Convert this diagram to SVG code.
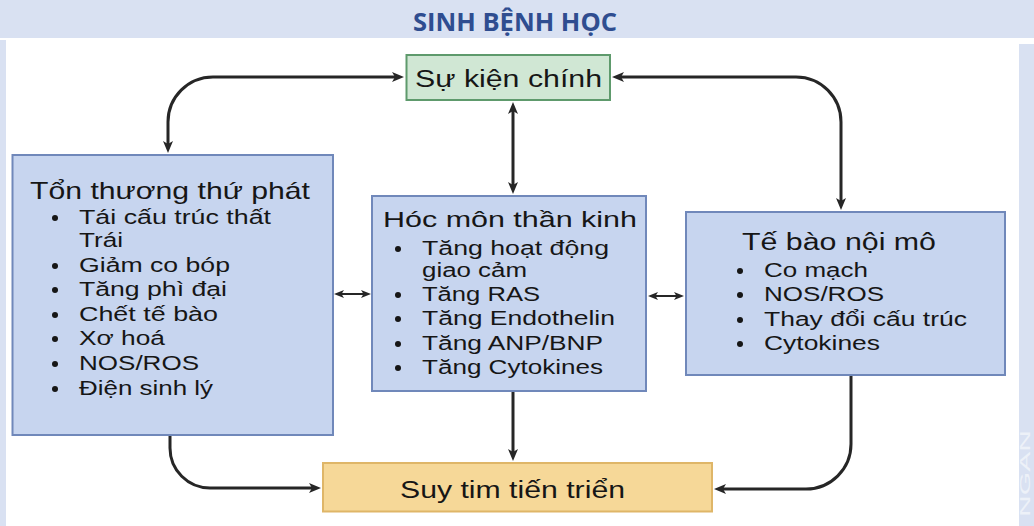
<svg xmlns="http://www.w3.org/2000/svg" width="1034" height="526" viewBox="0 0 1034 526">
  <style>
    .t { font-family: "Liberation Sans", Arial, sans-serif; fill: #161616; }
    .ttl { font-size: 23px; }
    .li { font-size: 20px; }
    .blue { fill: #c7d5ef; stroke: #7088ba; stroke-width: 2; }
    .green { fill: #d0e7d4; stroke: #5e9a6c; stroke-width: 2; }
    .orange { fill: #f6d898; stroke: #dfb668; stroke-width: 2; }
    .dot { fill: #161616; }
    .conn { fill: none; stroke: #262626; stroke-width: 3; }
    .thin { fill: none; stroke: #262626; stroke-width: 2; }
  </style>
  <defs>
    <marker id="ah" markerUnits="userSpaceOnUse" markerWidth="13" markerHeight="11" refX="4" refY="5" orient="auto-start-reverse" viewBox="0 0 13 11">
      <path d="M0,0 L12,5 L0,10 L3,5 z" fill="#262626"/>
    </marker>
    <marker id="sh" markerUnits="userSpaceOnUse" markerWidth="11" markerHeight="9" refX="3" refY="4" orient="auto-start-reverse" viewBox="0 0 11 9">
      <path d="M0,0 L10,4 L0,8 L2.5,4 z" fill="#262626"/>
    </marker>
  </defs>

  <g id="background">
    <rect x="0" y="0" width="1034" height="526" fill="#ffffff"/>
    <rect x="0" y="0" width="1034" height="38" fill="#d9e1f2"/>
    <rect x="0" y="40" width="6" height="486" fill="#d9e1f2"/>
    <rect x="1019" y="44" width="15" height="482" fill="#d9e1f2"/>
    <text transform="translate(1030,517) rotate(-90)" font-family="Liberation Sans, Arial, sans-serif" font-size="14" fill="#edf1f8" textLength="87" lengthAdjust="spacingAndGlyphs">NGAN</text>
  </g>

  <g id="title">
    <text x="413" y="31" font-family="'Open Sans', 'Liberation Sans', Arial, sans-serif" font-weight="bold" font-size="25" fill="#2f4d90" textLength="204" lengthAdjust="spacingAndGlyphs">SINH BỆNH HỌC</text>
  </g>

  <g id="connectors">
    <path class="conn" d="M 396 77 H 213 A 45 45 0 0 0 168 122 V 145" marker-start="url(#ah)" marker-end="url(#ah)"/>
    <path class="conn" d="M 620 77 H 796 A 45 45 0 0 1 841 122 V 202" marker-start="url(#ah)" marker-end="url(#ah)"/>
    <path class="conn" d="M 513 110 V 186" marker-start="url(#ah)" marker-end="url(#ah)"/>
    <path class="conn" d="M 513 392 V 453" marker-end="url(#ah)"/>
    <path class="conn" d="M 170 436 V 448 A 40 40 0 0 0 210 488 H 313" marker-end="url(#ah)"/>
    <path class="conn" d="M 851 376 V 444 A 45 45 0 0 1 806 489 H 722" marker-end="url(#ah)"/>
    <path class="thin" d="M 341 294 H 364" marker-start="url(#sh)" marker-end="url(#sh)"/>
    <path class="thin" d="M 655 296 H 677" marker-start="url(#sh)" marker-end="url(#sh)"/>
  </g>

  <g id="su-kien-chinh">
    <rect class="green" x="406.5" y="55" width="203.5" height="45"/>
    <text class="t ttl" x="415" y="87" textLength="187" lengthAdjust="spacingAndGlyphs">Sự kiện chính</text>
  </g>

  <g id="ton-thuong-thu-phat">
    <rect class="blue" x="12.5" y="155" width="320.5" height="280"/>
    <text class="t" x="30" y="199" font-size="24" textLength="280" lengthAdjust="spacingAndGlyphs">Tổn thương thứ phát</text>
    <circle class="dot" cx="55" cy="218" r="3"/>
    <text class="t li" x="79" y="224" textLength="192" lengthAdjust="spacingAndGlyphs">Tái cấu trúc thất</text>
    <text class="t li" x="79" y="247" textLength="44" lengthAdjust="spacingAndGlyphs">Trái</text>
    <circle class="dot" cx="55" cy="266" r="3"/>
    <text class="t li" x="79" y="272" textLength="151" lengthAdjust="spacingAndGlyphs">Giảm co bóp</text>
    <circle class="dot" cx="55" cy="290" r="3"/>
    <text class="t li" x="79" y="296" textLength="148" lengthAdjust="spacingAndGlyphs">Tăng phì đại</text>
    <circle class="dot" cx="55" cy="315" r="3"/>
    <text class="t li" x="79" y="321" textLength="139" lengthAdjust="spacingAndGlyphs">Chết tế bào</text>
    <circle class="dot" cx="55" cy="339" r="3"/>
    <text class="t li" x="79" y="345" textLength="86" lengthAdjust="spacingAndGlyphs">Xơ hoá</text>
    <circle class="dot" cx="55" cy="364" r="3"/>
    <text class="t li" x="79" y="370" textLength="120" lengthAdjust="spacingAndGlyphs">NOS/ROS</text>
    <circle class="dot" cx="55" cy="389" r="3"/>
    <text class="t li" x="79" y="395" textLength="134" lengthAdjust="spacingAndGlyphs">Điện sinh lý</text>
  </g>

  <g id="hoc-mon-than-kinh">
    <rect class="blue" x="372" y="196" width="274" height="195"/>
    <text class="t" x="383" y="227" font-size="22" textLength="254" lengthAdjust="spacingAndGlyphs">Hóc môn thần kinh</text>
    <circle class="dot" cx="398" cy="249" r="3"/>
    <text class="t li" x="422" y="255" textLength="187" lengthAdjust="spacingAndGlyphs">Tăng hoạt động</text>
    <text class="t li" x="422" y="277" textLength="105" lengthAdjust="spacingAndGlyphs">giao cảm</text>
    <circle class="dot" cx="398" cy="295" r="3"/>
    <text class="t li" x="422" y="301" textLength="118" lengthAdjust="spacingAndGlyphs">Tăng RAS</text>
    <circle class="dot" cx="398" cy="319" r="3"/>
    <text class="t li" x="422" y="325" textLength="193" lengthAdjust="spacingAndGlyphs">Tăng Endothelin</text>
    <circle class="dot" cx="398" cy="344" r="3"/>
    <text class="t li" x="422" y="350" textLength="181" lengthAdjust="spacingAndGlyphs">Tăng ANP/BNP</text>
    <circle class="dot" cx="398" cy="368" r="3"/>
    <text class="t li" x="422" y="374" textLength="181" lengthAdjust="spacingAndGlyphs">Tăng Cytokines</text>
  </g>

  <g id="te-bao-noi-mo">
    <rect class="blue" x="686" y="212" width="319" height="163"/>
    <text class="t ttl" x="742" y="250" textLength="194" lengthAdjust="spacingAndGlyphs">Tế bào nội mô</text>
    <circle class="dot" cx="740" cy="271" r="3"/>
    <text class="t li" x="764" y="277" textLength="104" lengthAdjust="spacingAndGlyphs">Co mạch</text>
    <circle class="dot" cx="740" cy="295" r="3"/>
    <text class="t li" x="764" y="301" textLength="120" lengthAdjust="spacingAndGlyphs">NOS/ROS</text>
    <circle class="dot" cx="740" cy="320" r="3"/>
    <text class="t li" x="764" y="326" textLength="203" lengthAdjust="spacingAndGlyphs">Thay đổi cấu trúc</text>
    <circle class="dot" cx="740" cy="344" r="3"/>
    <text class="t li" x="764" y="350" textLength="116" lengthAdjust="spacingAndGlyphs">Cytokines</text>
  </g>

  <g id="suy-tim-tien-trien">
    <rect class="orange" x="323" y="463" width="389" height="48.5"/>
    <text class="t ttl" x="400" y="498" textLength="225" lengthAdjust="spacingAndGlyphs">Suy tim tiến triển</text>
  </g>
</svg>
